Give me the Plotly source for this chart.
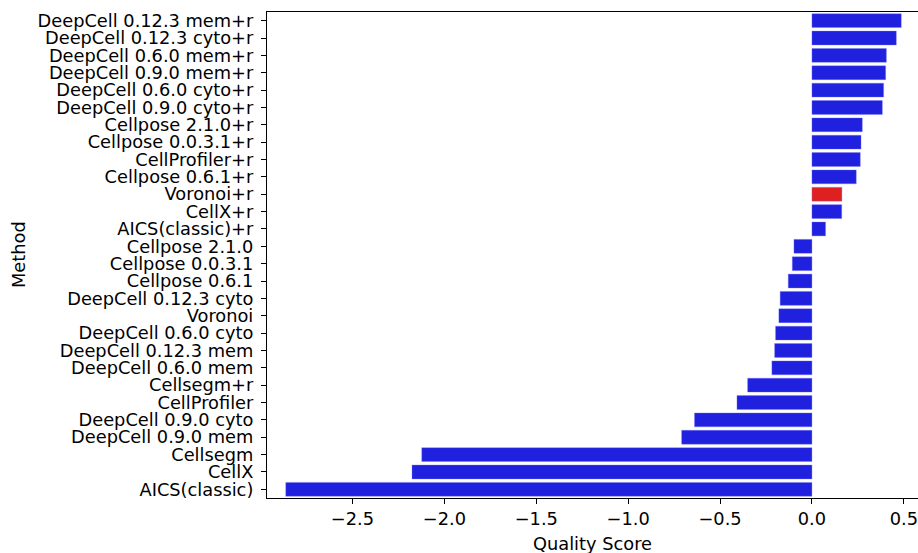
import plotly.graph_objects as go

methods = [
    "DeepCell 0.12.3 mem+r", "DeepCell 0.12.3 cyto+r", "DeepCell 0.6.0 mem+r",
    "DeepCell 0.9.0 mem+r", "DeepCell 0.6.0 cyto+r", "DeepCell 0.9.0 cyto+r",
    "Cellpose 2.1.0+r", "Cellpose 0.0.3.1+r", "CellProfiler+r", "Cellpose 0.6.1+r",
    "Voronoi+r", "CellX+r", "AICS(classic)+r", "Cellpose 2.1.0", "Cellpose 0.0.3.1",
    "Cellpose 0.6.1", "DeepCell 0.12.3 cyto", "Voronoi", "DeepCell 0.6.0 cyto",
    "DeepCell 0.12.3 mem", "DeepCell 0.6.0 mem", "Cellsegm+r", "CellProfiler",
    "DeepCell 0.9.0 cyto", "DeepCell 0.9.0 mem", "Cellsegm", "CellX", "AICS(classic)",
]
scores = [
    0.486, 0.459, 0.405, 0.401, 0.390, 0.383,
    0.274, 0.267, 0.263, 0.241,
    0.163, 0.162, 0.074, -0.098, -0.107,
    -0.129, -0.173, -0.180, -0.198,
    -0.203, -0.218, -0.350, -0.408,
    -0.639, -0.709, -2.123, -2.176, -2.863,
]
highlight = "Voronoi+r"
x_ticks = [-2.5, -2.0, -1.5, -1.0, -0.5, 0.0, 0.5]
x_tick_text = ["\u22122.5", "\u22122.0", "\u22121.5", "\u22121.0", "\u22120.5", "0.0", "0.5"]

BLUE = "#2020df"
RED = "#df2020"
colors = [RED if m == highlight else BLUE for m in methods]

W, H = 918, 553
L, R, T, B = 267, 0, 12, 55
FONT = "DejaVu Sans"
FS = 17.8

fig = go.Figure(go.Bar(
    x=scores, y=methods, orientation="h",
    marker=dict(color=colors, line=dict(width=0.6, color="rgba(120,120,255,0.6)")),
    width=0.8,
))

fig.update_layout(
    width=W, height=H,
    margin=dict(l=L, r=R, t=T, b=B, pad=0),
    plot_bgcolor="white", paper_bgcolor="white",
    font=dict(family=FONT, size=FS, color="black"),
    showlegend=False,
    xaxis=dict(
        range=[-2.965, 0.577],
        tickmode="array", tickvals=x_ticks, ticktext=x_tick_text,
        ticks="outside", ticklen=5, tickwidth=1.2, tickcolor="black",
        showline=True, linecolor="black", linewidth=1.2, mirror=True,
        showgrid=False, zeroline=False,
        tickfont=dict(family=FONT, size=FS),
    ),
    yaxis=dict(
        categoryorder="array", categoryarray=methods,
        tickmode="array", tickvals=methods, ticktext=methods,
        autorange="reversed",
        ticks="outside", ticklen=5, tickwidth=1.2, tickcolor="black",
        showline=True, linecolor="black", linewidth=1.2,
        showgrid=False, zeroline=False,
        tickfont=dict(family=FONT, size=FS),
        ticklabelstandoff=4,
    ),
    annotations=[
        dict(text="Quality Score", xref="paper", yref="paper",
             x=0.5, y=-(543 - (H - B)) / (H - T - B),
             xanchor="center", yanchor="middle", showarrow=False,
             font=dict(family=FONT, size=FS)),
        dict(text="Method", xref="paper", yref="paper",
             x=(18 - L) / (W - L - R), y=0.5, textangle=-90,
             xanchor="center", yanchor="middle", showarrow=False,
             font=dict(family=FONT, size=FS)),
    ],
)

fig.write_html("out.html")
